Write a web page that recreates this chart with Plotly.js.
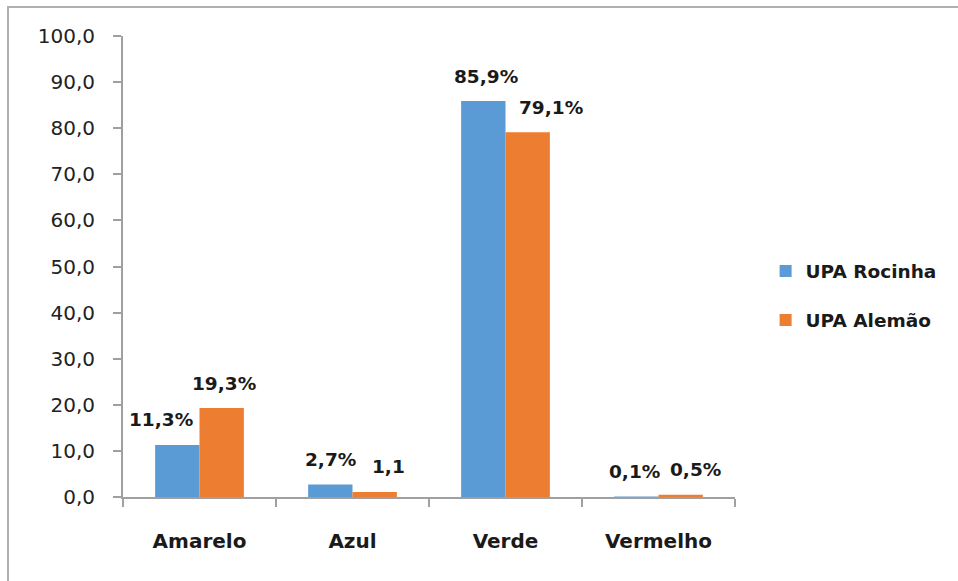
<!DOCTYPE html>
<html><head><meta charset="utf-8">
<script src="https://cdn.plot.ly/plotly-3.0.1.min.js"></script>
<style>
html,body{margin:0;padding:0;background:#fff;}
#frame{position:absolute;left:7px;top:6px;width:2000px;height:2000px;border-left:2px solid #b0b0b0;border-top:2px solid #b0b0b0;}
#chart{position:absolute;left:0;top:0;width:958px;height:581px;}
</style></head>
<body>
<div id="frame"></div>
<div id="chart"></div>
<script>
const categories = ["Amarelo", "Azul", "Verde", "Vermelho"];
const rocinha = [11.3, 2.7, 85.9, 0.1];
const alemao = [19.3, 1.1, 79.1, 0.5];
const rocinhaLabels = ["11,3%", "2,7%", "85,9%", "0,1%"];
const alemaoLabels = ["19,3%", "1,1", "79,1%", "0,5%"];
const seriesNames = ["UPA Rocinha", "UPA Alemão"];

const blue = "#5B9BD5", orange = "#ED7D31";
const labelFont = {family: "DejaVu Sans", size: 18.5, color: "#1a1a1a", weight: "bold"};

const traces = [
  {type: "bar", x: categories, y: rocinha, name: seriesNames[0], marker: {color: blue}, legendgroup: "a", hoverinfo: "none"},
  {type: "bar", x: categories, y: alemao, name: seriesNames[1], marker: {color: orange}, legendgroup: "b", hoverinfo: "none"}
];

const extraShiftR = [-17, 0, 2, -2];
const extraShiftA = [2, 14, 23, 15];
const annotations = [];
categories.forEach((c, i) => {
  annotations.push({x: c, y: rocinha[i], xref: "x", yref: "y", text: "<b>" + rocinhaLabels[i] + "</b>", showarrow: false,
    xshift: -22 + extraShiftR[i], yshift: 25, font: labelFont});
  annotations.push({x: c, y: alemao[i], xref: "x", yref: "y", text: "<b>" + alemaoLabels[i] + "</b>", showarrow: false,
    xshift: 22 + extraShiftA[i], yshift: 25, font: labelFont});
});

const layout = {
  width: 958, height: 581,
  margin: {l: 123, r: 223, t: 36, b: 84},
  paper_bgcolor: "rgba(0,0,0,0)", plot_bgcolor: "rgba(0,0,0,0)",
  separators: ",.",
  barmode: "group", bargap: 0.42, bargroupgap: 0,
  showlegend: true,
  legend: {x: 1.05, xanchor: "left", y: 0.436, yanchor: "middle", font: {family: "DejaVu Sans", size: 18.5, color: "#1a1a1a", weight: "bold"},
           traceorder: "grouped", tracegroupgap: 22, itemwidth: 30},
  xaxis: {type: "category", range: [-0.5, 3.5], showline: true, linecolor: "#a0a0a0", linewidth: 2,
          ticks: "outside", tickson: "boundaries", ticklen: 8, tickcolor: "#a0a0a0", tickwidth: 2,
          showgrid: false, zeroline: false, ticklabelstandoff: 25,
          tickfont: {family: "DejaVu Sans", size: 20, color: "#1a1a1a", weight: "bold"}},
  yaxis: {range: [0, 100], dtick: 10, tickformat: ".1f", showline: true, linecolor: "#a0a0a0", linewidth: 2,
          ticks: "outside", ticklen: 8, tickcolor: "#a0a0a0", tickwidth: 2, showgrid: false, zeroline: false,
          ticklabelstandoff: 14,
          tickfont: {family: "DejaVu Sans", size: 20, color: "#222"}},
  annotations: annotations
};

Plotly.newPlot("chart", traces, layout, {displayModeBar: false, staticPlot: true});
</script>
</body></html>
